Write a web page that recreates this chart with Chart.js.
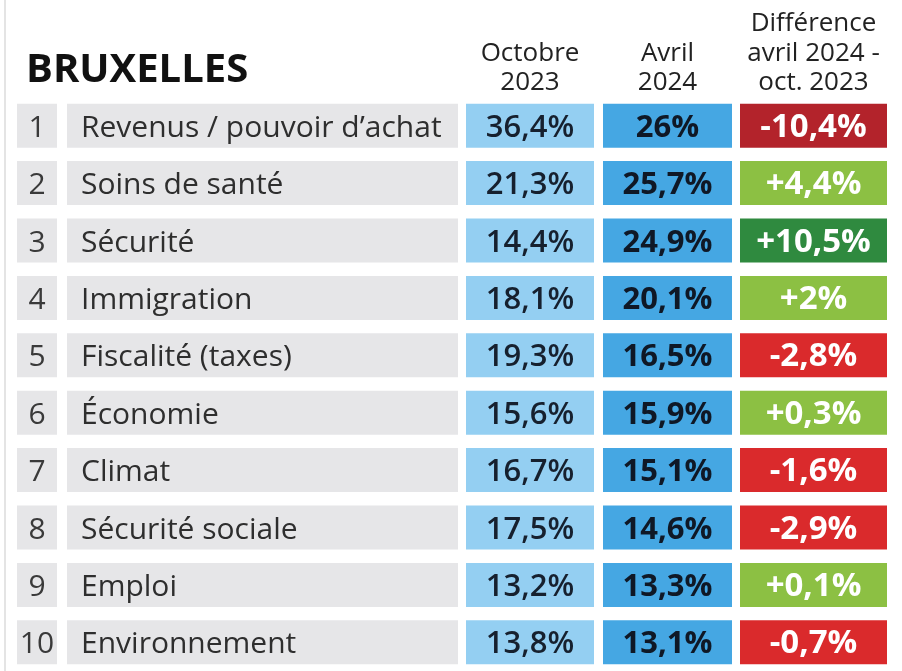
<!DOCTYPE html>
<html>
<head>
<meta charset="utf-8">
<script src="https://cdn.jsdelivr.net/npm/chart.js@4.4.1/dist/chart.umd.min.js"></script>
<style>
	body { margin: 0; background: #fff; }
	#wrap { width: 902px; height: 671px; }
</style>
</head>
<body>
<div id="wrap"><canvas id="tableChart" width="902" height="671"></canvas></div>
<script>
// données
const rangs = ["1", "2", "3", "4", "5", "6", "7", "8", "9", "10"];
const themes = ["Revenus / pouvoir d’achat", "Soins de santé", "Sécurité", "Immigration",
	"Fiscalité (taxes)", "Économie", "Climat", "Sécurité sociale", "Emploi", "Environnement"];
const octobre2023 = [36.4, 21.3, 14.4, 18.1, 19.3, 15.6, 16.7, 17.5, 13.2, 13.8];
const avril2024 = [26, 25.7, 24.9, 20.1, 16.5, 15.9, 15.1, 14.6, 13.3, 13.1];
const difference = [-10.4, 4.4, 10.5, 2, -2.8, 0.3, -1.6, -2.9, 0.1, -0.7];
const titre = "BRUXELLES";
const entetes = [["Octobre", "2023"], ["Avril", "2024"], ["Différence", "avril 2024 -", "oct. 2023"]];

// mise en page des colonnes (unités de l'axe x)
const colonnes = {
	rang: [17, 57],
	theme: [67, 458],
	oct: [466, 594],
	avr: [603, 732],
	diff: [740, 887]
};

const pct = v => String(v).replace(".", ",") + "%";
const pctSigne = v => (v > 0 ? "+" : "") + pct(v);
const couleurDiff = v => v <= -5 ? "#b3232b" : v < 0 ? "#da2a2c" : v >= 5 ? "#2f8a3f" : "#8cc043";

const cellules = col => rangs.map(() => colonnes[col]);

const texteCellules = {
	id: "texteCellules",
	afterDatasetsDraw(chart) {
		const ctx = chart.ctx;
		const x = chart.scales.x;
		ctx.save();
		chart.data.datasets.forEach((ds, i) => {
			const meta = chart.getDatasetMeta(i);
			meta.data.forEach((el, j) => {
				const gauche = Math.min(el.x, el.base);
				const droite = Math.max(el.x, el.base);
				const txt = ds.textes[j];
				ctx.fillStyle = ds.couleurTexte;
				ctx.font = ds.police;
				ctx.textBaseline = "alphabetic";
				if (ds.aligne === "left") {
					ctx.textAlign = "left";
					ctx.fillText(txt, gauche + 14, el.y + 11);
				} else {
					ctx.textAlign = "center";
					ctx.fillText(txt, (gauche + droite) / 2, el.y + 11);
				}
			});
		});

		// titre et en-têtes
		ctx.fillStyle = "#111";
		ctx.font = "bold 40px 'Open Sans'";
		ctx.textAlign = "left";
		ctx.fillText(titre, x.getPixelForValue(colonnes.rang[0]) + 9, 82);

		ctx.fillStyle = "#222";
		ctx.font = "26px 'Open Sans'";
		ctx.textAlign = "center";
		["oct", "avr", "diff"].forEach((c, k) => {
			const cx = (x.getPixelForValue(colonnes[c][0]) + x.getPixelForValue(colonnes[c][1])) / 2;
			const lignes = entetes[k];
			lignes.forEach((l, n) => {
				ctx.fillText(l, cx, 90 - (lignes.length - 1 - n) * 29.5);
			});
		});

		// filet gauche
		ctx.strokeStyle = "#e4e4e4";
		ctx.lineWidth = 2;
		ctx.beginPath();
		ctx.moveTo(5, 0);
		ctx.lineTo(5, chart.height);
		ctx.stroke();
		ctx.restore();
	}
};

new Chart(document.getElementById("tableChart").getContext("2d"), {
	type: "bar",
	data: {
		labels: rangs,
		datasets: [
			{
				data: cellules("rang"), backgroundColor: "#e6e6e8",
				textes: rangs, couleurTexte: "#3a3a3a", police: "30px 'Open Sans'", aligne: "center"
			},
			{
				data: cellules("theme"), backgroundColor: "#e6e6e8",
				textes: themes, couleurTexte: "#2e2e2e", police: "30px 'Open Sans'", aligne: "left"
			},
			{
				data: cellules("oct"), backgroundColor: "#94cff2",
				textes: octobre2023.map(pct), couleurTexte: "#16202e", police: "600 31px 'Open Sans'", aligne: "center"
			},
			{
				data: cellules("avr"), backgroundColor: "#45a7e3",
				textes: avril2024.map(pct), couleurTexte: "#0f1826", police: "bold 31px 'Open Sans'", aligne: "center"
			},
			{
				data: cellules("diff"), backgroundColor: difference.map(couleurDiff),
				textes: difference.map(pctSigne), couleurTexte: "#ffffff", police: "bold 33px 'Open Sans'", aligne: "center"
			}
		].map(ds => Object.assign(ds, { grouped: false, barPercentage: 0.767, categoryPercentage: 1, borderWidth: 0 }))
	},
	options: {
		indexAxis: "y",
		responsive: false,
		animation: false,
		layout: { padding: { top: 97, left: 0, right: 0, bottom: 0 } },
		plugins: { legend: { display: false }, tooltip: { enabled: false }, title: { display: false } },
		scales: {
			x: { type: "linear", min: 0, max: 902, display: false },
			y: { display: false }
		}
	},
	plugins: [texteCellules]
});
</script>
</body>
</html>
